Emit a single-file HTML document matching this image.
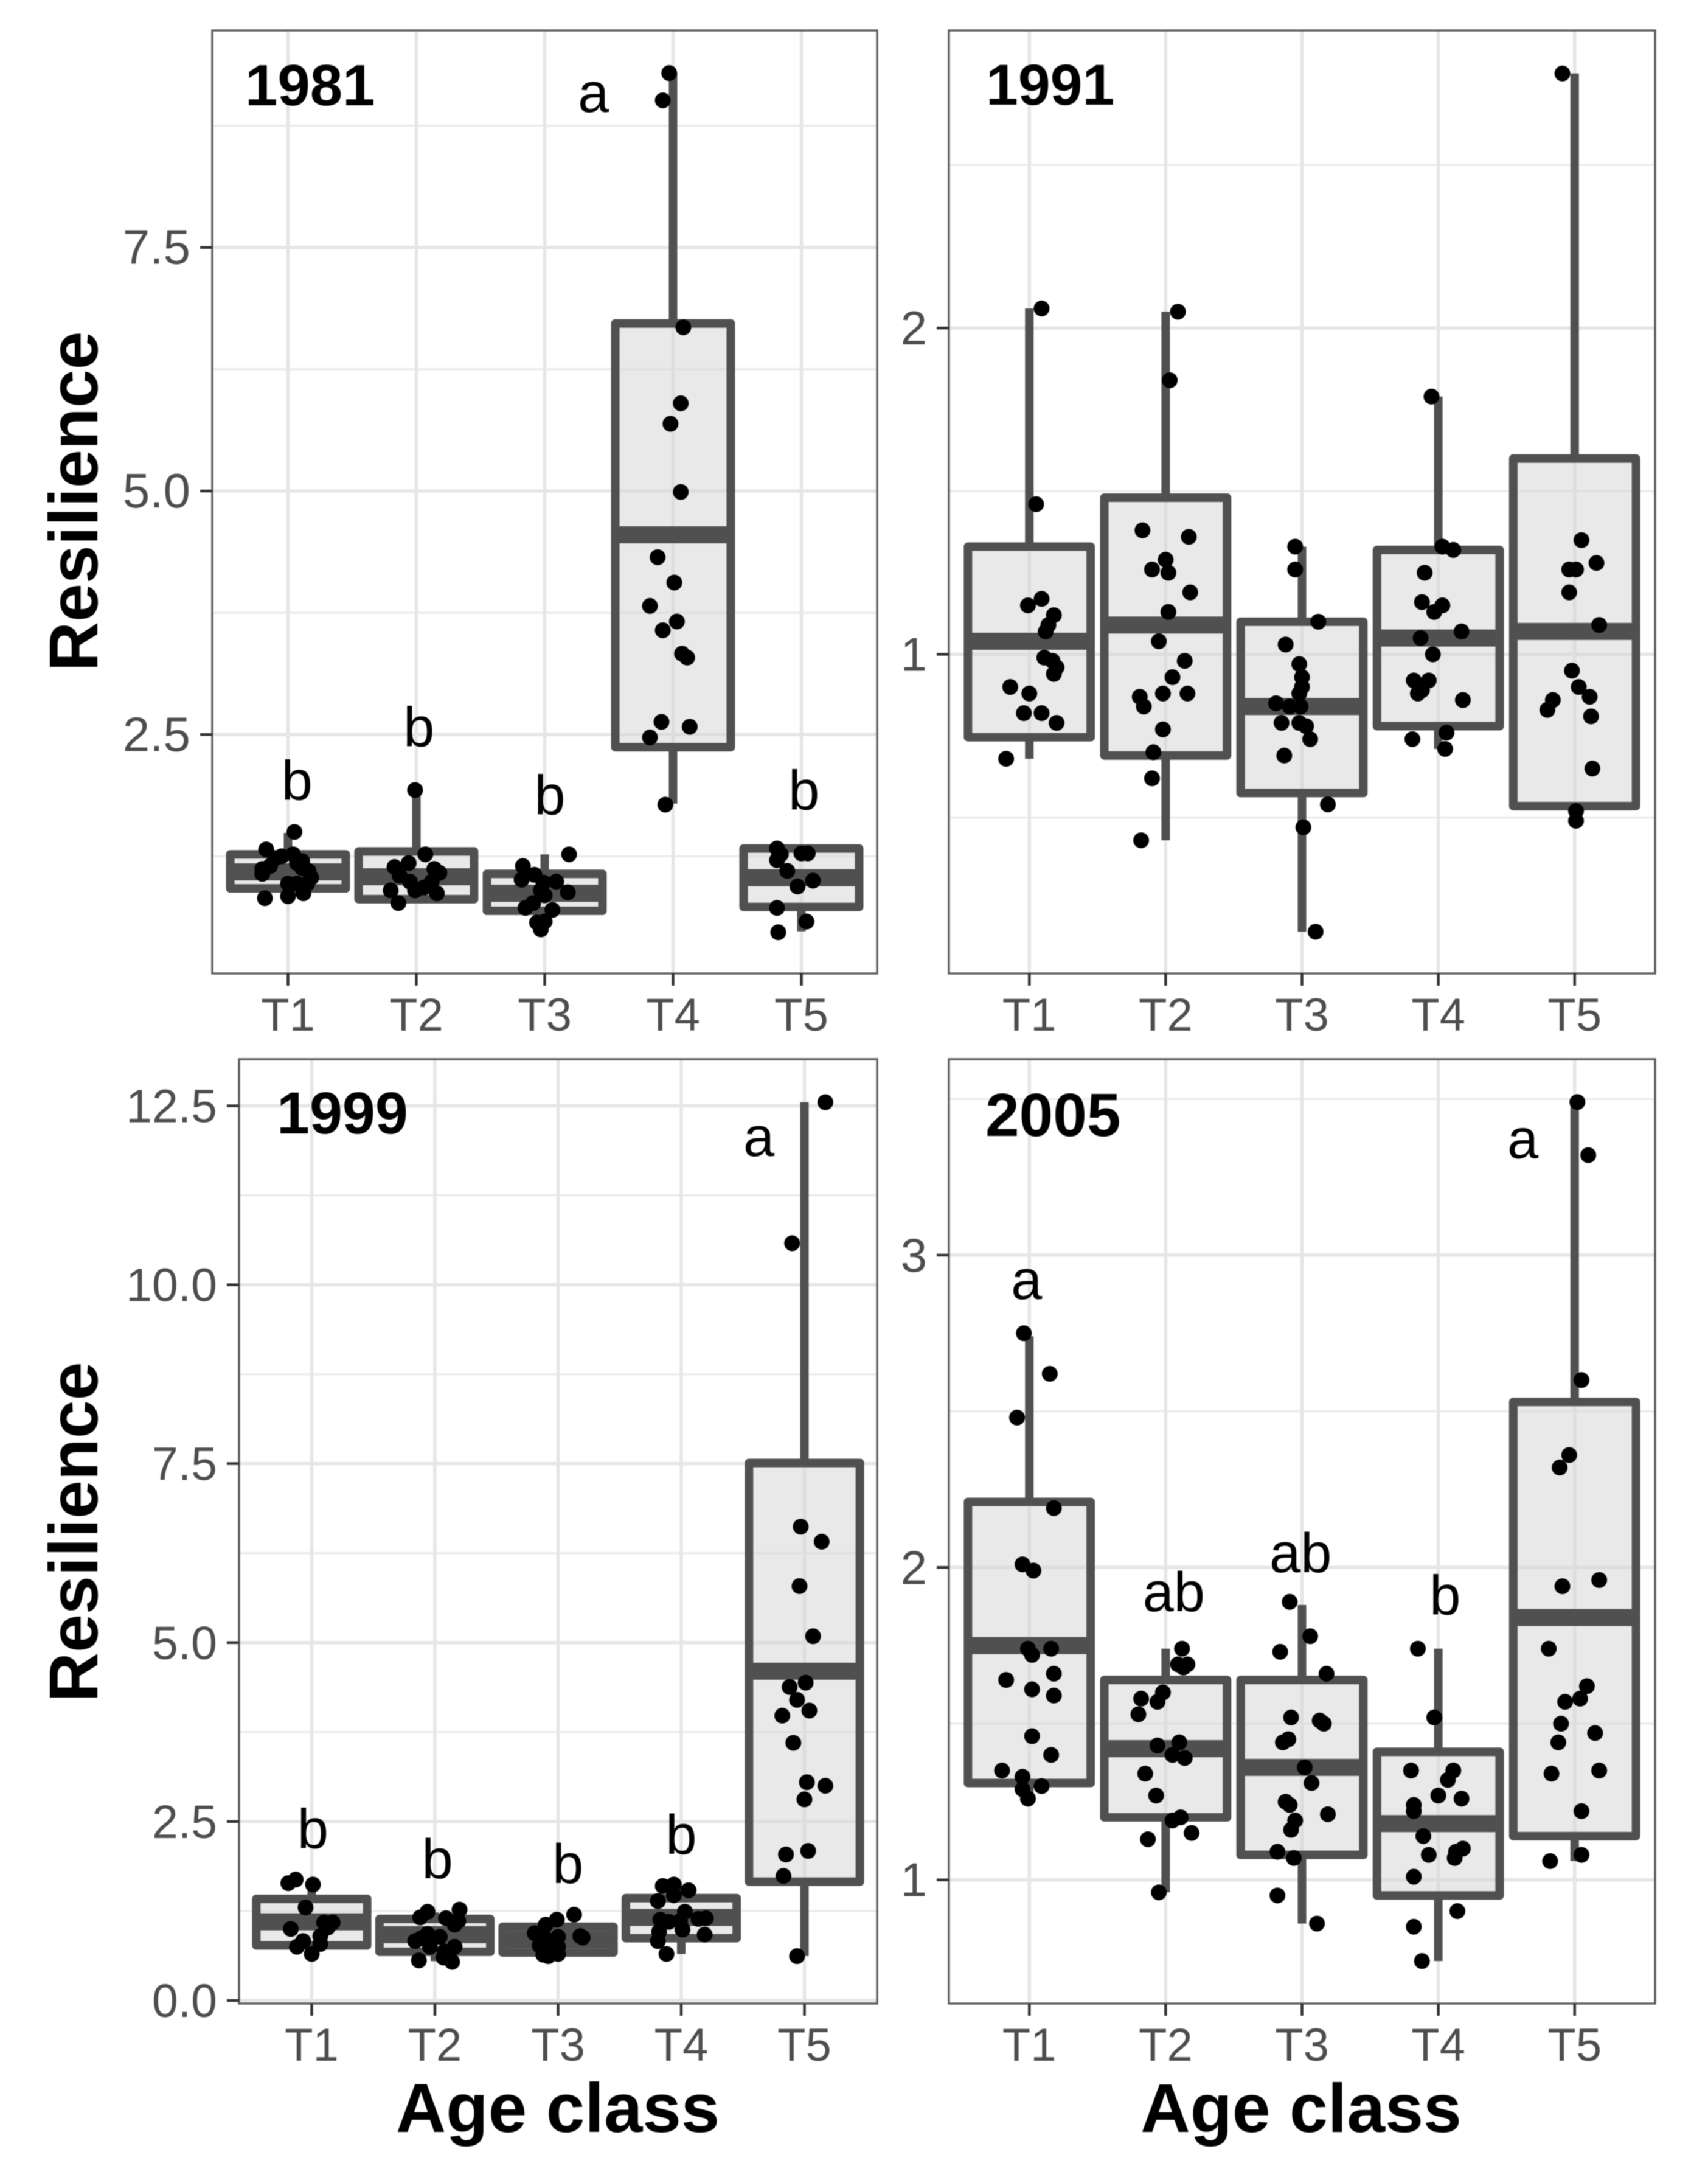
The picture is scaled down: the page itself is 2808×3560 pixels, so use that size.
<!DOCTYPE html>
<html lang="en">
<head>
<meta charset="utf-8">
<title>Resilience by age class</title>
<style>
html,body{margin:0;padding:0;background:#fff;}
svg{display:block;filter:blur(0.7px);}
text{font-family:"Liberation Sans",sans-serif;}
</style>
</head>
<body>
<svg id="figure" xmlns="http://www.w3.org/2000/svg" width="2808" height="3560" viewBox="0 0 2808 3560">
  <rect x="0" y="0" width="2808" height="3560" fill="#ffffff"/>
  <g id="panel-1981"></g>
  <g id="panel-1991"></g>
  <g id="panel-1999"></g>
  <g id="panel-2005"></g>
  <text x="403" y="173" font-size="96" font-weight="700" fill="#000">1981</text>
  <text x="1621" y="172" font-size="95" font-weight="700" fill="#000">1991</text>
  <text x="455" y="1863" font-size="97" font-weight="700" fill="#000">1999</text>
  <text x="1620" y="1867" font-size="100" font-weight="700" fill="#000">2005</text>
  <text transform="translate(160 824) rotate(-90)" text-anchor="middle" font-size="113" font-weight="700" fill="#000">Resilience</text>
  <text transform="translate(160 2518) rotate(-90)" text-anchor="middle" font-size="113" font-weight="700" fill="#000">Resilience</text>
  <text x="917" y="3504" text-anchor="middle" font-size="114" font-weight="700" fill="#000">Age class</text>
  <text x="2139" y="3504" text-anchor="middle" font-size="113" font-weight="700" fill="#000">Age class</text>
</svg>
<script>
const categories = ['T1', 'T2', 'T3', 'T4', 'T5'];

// 1981
const ticks1981 = [2.5, 5, 7.5];
const tickLabels1981 = ['2.5', '5.0', '7.5'];
const minor1981 = [1.25, 3.75, 6.25, 8.75];
const domain1981 = [0.047, 9.728];
const q1_1981 = [0.92, 0.81, 0.69, 2.37, 0.73];
const median1981 = [1.09, 1.04, 0.87, 4.55, 1.03];
const q3_1981 = [1.27, 1.30, 1.07, 6.72, 1.33];
const whiskerLow1981 = [0.92, 0.81, 0.69, 1.79, 0.48];
const whiskerHigh1981 = [1.49, 1.93, 1.27, 9.29, 1.33];
const values1981 = [
  [1.50,1.32,1.23,1.25,1.27,1.20,1.18,1.15,1.12,1.07,1.10,1.03,.97,.97,.87,.84,.82,1.13,.97],
  [1.27,1.18,1.14,1.05,1.12,1.08,.99,.99,.90,.90,.93,.87,.77,1.93],
  [1.27,1.15,1.01,1.06,.99,.98,.90,.85,.88,.77,.72,.70,.57,.58,.50],
  [9.29,9.01,6.68,5.90,5.69,4.99,4.32,4.06,3.82,3.66,3.57,3.33,3.29,2.63,2.58,2.47,1.78],
  [1.33,1.27,1.21,1.28,1.28,1.10,1.00,.94,.72,.58,.47]
];
const jitter1981 = [
  [.05,-.17,-.10,-.05,.04,.11,.07,-.14,-.20,-.20,.16,.18,0,.15,.12,0,-.18,.11,.07],
  [.07,-.06,-.17,-.13,.14,.18,-.05,.12,-.20,-.01,.06,.16,-.14,-.01],
  [.19,-.17,-.18,-.08,.09,-.01,-.03,0,.18,-.09,-.15,.06,-.06,0,-.03],
  [-.03,-.08,.08,.06,-.02,.06,-.12,.01,-.18,.03,-.08,.07,.11,-.09,.13,-.18,-.06],
  [-.19,-.16,-.19,0,.05,-.11,.09,-.03,-.19,.04,-.18]
];
const letters1981 = ['b', 'b', 'b', 'a', 'b'];
const letterCat1981 = [1.07, 2.02, 3.04, 3.38, 5.02];
const letterVal1981 = [1.83, 2.38, 1.68, 8.89, 1.73];

// 1991
const ticks1991 = [1, 2];
const tickLabels1991 = ['1', '2'];
const minor1991 = [0.5, 1.5, 2.5];
const domain1991 = [0.022, 2.912];
const q1_1991 = [0.746, 0.69, 0.575, 0.78, 0.535];
const median1991 = [1.04, 1.09, 0.84, 1.05, 1.07];
const q3_1991 = [1.33, 1.48, 1.10, 1.32, 1.60];
const whiskerLow1991 = [0.68, 0.43, 0.15, 0.71, 0.53];
const whiskerHigh1991 = [2.06, 2.05, 1.33, 1.79, 2.78];
const values1991 = [
  [2.06,1.46,1.17,1.15,1.12,1.09,1.07,.99,.98,.96,.94,.90,.88,.82,.82,.79,.68],
  [2.05,1.84,1.38,1.36,1.29,1.26,1.25,1.19,1.13,1.04,.98,.93,.88,.88,.87,.84,.77,.70,.62,.43],
  [1.33,1.26,1.10,1.03,.97,.93,.90,.88,.85,.84,.84,.79,.79,.78,.74,.69,.54,.47,.15],
  [1.79,1.33,1.32,1.25,1.16,1.15,1.13,1.07,1.05,1.00,.92,.92,.89,.88,.86,.76,.74,.71],
  [2.78,1.35,1.28,1.26,1.26,1.19,1.09,.95,.90,.87,.86,.83,.81,.65,.52,.49]
];
const jitter1991 = [
  [.09,.05,.09,-.01,.18,.14,.12,.11,.17,.20,.18,-.14,0,-.04,.09,.20,-.17],
  [.09,.03,-.17,.17,0,-.10,.02,.18,.02,-.05,.14,.05,.16,-.02,-.19,-.16,-.02,-.09,-.10,-.18],
  [-.05,-.05,.12,-.12,-.02,0,0,-.02,-.19,-.09,-.01,-.15,-.02,.03,.06,-.13,.19,.01,.10],
  [-.05,.03,.11,-.10,-.12,.03,-.03,.17,-.13,-.04,-.18,-.07,-.12,-.15,.18,.06,-.19,.05],
  [-.09,.05,.16,-.04,.01,-.04,.18,-.02,.03,.11,-.16,-.20,.12,.13,.01,.01]
];
const letters1991 = [];
const letterCat1991 = [];
const letterVal1991 = [];

// 1999
const ticks1999 = [0, 2.5, 5, 7.5, 10, 12.5];
const tickLabels1999 = ['0.0', '2.5', '5.0', '7.5', '10.0', '12.5'];
const minor1999 = [1.25, 3.75, 6.25, 8.75, 11.25];
const domain1999 = [-0.0425, 13.15];
const q1_1999 = [0.77, 0.68, 0.67, 0.87, 1.66];
const median1999 = [1.10, 0.92, 0.85, 1.16, 4.60];
const q3_1999 = [1.42, 1.14, 1.03, 1.43, 7.51];
const whiskerLow1999 = [0.65, 0.55, 0.62, 0.65, 0.62];
const whiskerHigh1999 = [1.62, 1.23, 1.13, 1.60, 12.55];
const values1999 = [
  [1.69,1.64,1.62,1.30,1.00,1.09,1.09,1.02,.90,.79,.83,.75,.65],
  [1.27,1.24,1.16,1.15,1.11,1.06,.93,.89,.83,.87,.75,.75,.69,.60,.54,.56],
  [1.20,1.13,1.06,.94,.90,.88,.89,.90,.77,.75,.64,.65,.62,.75],
  [1.60,1.62,1.54,1.47,1.39,1.24,1.13,1.10,1.11,1.14,1.15,.99,.96,.92,.83,.65],
  [12.55,10.58,6.62,6.41,5.79,5.09,4.44,4.38,4.20,4.05,3.98,3.60,3.05,3.00,2.81,2.09,2.04,1.74,.62]
];
const jitter1999 = [
  [-.13,-.19,.01,-.05,-.17,.10,.17,.13,.07,.07,-.07,-.12,0],
  [.20,-.06,-.12,.09,.19,.16,-.06,.04,-.16,-.11,-.04,.16,.08,.07,.14,-.13],
  [.13,-.01,-.10,-.19,.18,.20,0,-.12,-.15,0,-.12,0,-.08,-.07],
  [-.15,-.06,.06,-.06,-.19,.03,-.17,-.10,-.01,.14,.20,.01,-.18,.19,-.19,-.12],
  [.17,-.10,-.03,.14,-.04,.07,.01,-.12,-.06,.04,-.18,-.09,.02,.17,0,.03,-.15,-.17,-.06]
];
const letters1999 = ['b', 'b', 'b', 'b', 'a'];
const letterCat1999 = [1.01, 2.02, 3.08, 4.0, 4.63];
const letterVal1999 = [2.13, 1.71, 1.64, 2.05, 11.80];

// 2005
const ticks2005 = [1, 2, 3];
const tickLabels2005 = ['1', '2', '3'];
const minor2005 = [1.5, 2.5, 3.5];
const domain2005 = [0.604, 3.627];
const q1_2005 = [1.31, 1.20, 1.08, 0.95, 1.14];
const median2005 = [1.75, 1.42, 1.36, 1.18, 1.84];
const q3_2005 = [2.21, 1.64, 1.64, 1.41, 2.53];
const whiskerLow2005 = [1.27, 0.96, 0.86, 0.74, 1.06];
const whiskerHigh2005 = [2.74, 1.74, 1.88, 1.74, 3.49];
const values2005 = [
  [2.75,2.62,2.48,2.19,2.01,1.99,1.74,1.74,1.72,1.66,1.64,1.61,1.59,1.46,1.40,1.35,1.33,1.30,1.29,1.26],
  [1.74,1.69,1.69,1.68,1.60,1.58,1.57,1.53,1.43,1.44,1.40,1.39,1.34,1.27,1.20,1.19,1.15,1.13,.96],
  [1.89,1.78,1.73,1.66,1.52,1.51,1.50,1.45,1.44,1.36,1.31,1.25,1.24,1.21,1.19,1.16,1.09,1.07,.95,.86],
  [1.74,1.52,1.35,1.35,1.32,1.27,1.26,1.24,1.22,1.14,1.10,1.09,1.08,1.07,1.01,.90,.85,.74],
  [3.49,3.32,2.60,2.36,2.32,1.96,1.94,1.74,1.62,1.58,1.57,1.50,1.47,1.44,1.34,1.35,1.22,1.08,1.06]
];
const jitter2005 = [
  [-.04,.15,-.09,.18,-.05,.03,-.01,.16,.02,.18,-.17,.02,.18,.02,.16,-.20,-.05,.09,-.05,-.01],
  [.12,.09,.16,.13,-.02,-.18,-.06,-.20,-.06,.10,.05,.14,-.15,-.07,.11,.05,.19,-.13,-.05],
  [-.09,.06,-.16,.18,-.08,.13,.16,-.10,-.14,.02,.07,-.12,-.09,.19,-.05,-.08,-.18,-.06,-.18,.11],
  [-.15,-.03,-.20,.11,.07,0,.17,-.18,-.18,-.11,.18,.13,-.07,.12,-.18,.14,-.18,-.12],
  [.02,.10,.05,-.04,-.11,.18,-.09,-.19,.09,.04,-.07,-.10,.15,-.12,-.17,.18,.05,.05,-.18]
];
const letters2005 = ['a', 'ab', 'ab', 'b', 'a'];
const letterCat2005 = [0.98, 2.06, 2.99, 4.05, 4.62];
const letterVal2005 = [2.86, 1.86, 1.985, 1.85, 3.31];

const SVG_NS = 'http://www.w3.org/2000/svg';
const X_DOMAIN = [0.41, 5.59];
const BOX_WIDTH = 0.9;
const BOX_COLOR = '#505050';

function shape(parent, tag, attrs) {
  const el = document.createElementNS(SVG_NS, tag);
  for (const key in attrs) el.setAttribute(key, attrs[key]);
  parent.appendChild(el);
  return el;
}

function drawPanel(p) {
  const root = document.getElementById(p.id);
  const xScale = c => p.left + (c - X_DOMAIN[0]) / (X_DOMAIN[1] - X_DOMAIN[0]) * (p.right - p.left);
  const yScale = v => p.bottom - (v - p.domain[0]) / (p.domain[1] - p.domain[0]) * (p.bottom - p.top);

  p.minor.forEach(v => {
    const el = shape(root, 'line', {x1: p.left, x2: p.right, y1: yScale(v), y2: yScale(v), stroke: '#ececec', 'stroke-width': 3.5});
    
    
  });
  p.ticks.forEach(v => {
    const el = shape(root, 'line', {x1: p.left, x2: p.right, y1: yScale(v), y2: yScale(v), stroke: '#e6e6e6', 'stroke-width': 5.5});
    
    
  });
  categories.forEach((cat, i) => {
    const el = shape(root, 'line', {x1: xScale(i + 1), x2: xScale(i + 1), y1: p.top, y2: p.bottom, stroke: '#e6e6e6', 'stroke-width': 5.5});
    
    
  });

  categories.forEach((cat, i) => {
    const cx = xScale(i + 1);
    const halfW = xScale(i + 1 + BOX_WIDTH / 2) - cx;

    const whiskerUp = shape(root, 'line', {x1: cx, x2: cx, y1: yScale(p.whiskerHigh[i]), y2: yScale(p.q3[i]), stroke: BOX_COLOR, 'stroke-width': 14});
    
    

    const whiskerDown = shape(root, 'line', {x1: cx, x2: cx, y1: yScale(p.q1[i]), y2: yScale(p.whiskerLow[i]), stroke: BOX_COLOR, 'stroke-width': 14});
    
    

    const box = shape(root, 'rect', {
      x: cx - halfW, width: 2 * halfW,
      y: yScale(p.q3[i]), height: yScale(p.q1[i]) - yScale(p.q3[i]),
      fill: 'rgba(212,212,212,0.5)', stroke: BOX_COLOR, 'stroke-width': 14, 'stroke-linejoin': 'round'
    });
    
    

    const med = shape(root, 'line', {x1: cx - halfW, x2: cx + halfW, y1: yScale(p.median[i]), y2: yScale(p.median[i]), stroke: BOX_COLOR, 'stroke-width': 28});
    
    
  });

  categories.forEach((cat, i) => {
    p.values[i].forEach((v, j) => {
      const dot = shape(root, 'circle', {cx: xScale(i + 1 + p.jitter[i][j]), cy: yScale(v), r: 13, fill: '#000000'});
      
      
    });
  });

  const border = shape(root, 'rect', {x: p.left, y: p.top, width: p.right - p.left, height: p.bottom - p.top, fill: 'none', stroke: '#5f5f5f', 'stroke-width': 3.5});
  
  

  p.ticks.forEach((v, i) => {
    const tick = shape(root, 'line', {x1: p.left - 20, x2: p.left, y1: yScale(v), y2: yScale(v), stroke: '#333333', 'stroke-width': 4.5});
    
    
    const label = shape(root, 'text', {x: p.left - 36, y: yScale(v) + 27, 'text-anchor': 'end', 'font-size': p.yTickSize, fill: '#4d4d4d'});
    label.textContent = p.tickLabels[i];
    
    
  });

  categories.forEach((cat, i) => {
    const cx = xScale(i + 1);
    const tick = shape(root, 'line', {x1: cx, x2: cx, y1: p.bottom, y2: p.bottom + 20, stroke: '#333333', 'stroke-width': 4.5});
    
    
    const label = shape(root, 'text', {x: cx, y: p.bottom + 94, 'text-anchor': 'middle', 'font-size': 76, fill: '#4d4d4d'});
    label.textContent = cat;
    
    
  });

  p.letters.forEach((text, i) => {
    const label = shape(root, 'text', {x: xScale(p.letterCat[i]), y: yScale(p.letterVal[i]), 'text-anchor': 'middle', 'font-size': 92, fill: '#000000'});
    label.textContent = text;
    
    
  });
}

drawPanel({id: 'panel-1981', yTickSize: 80, left: 349, right: 1442, top: 50, bottom: 1600, domain: domain1981, ticks: ticks1981, tickLabels: tickLabels1981, minor: minor1981, q1: q1_1981, median: median1981, q3: q3_1981, whiskerLow: whiskerLow1981, whiskerHigh: whiskerHigh1981, values: values1981, jitter: jitter1981, letters: letters1981, letterCat: letterCat1981, letterVal: letterVal1981});
drawPanel({id: 'panel-1991', yTickSize: 78, left: 1560, right: 2721, top: 50, bottom: 1600, domain: domain1991, ticks: ticks1991, tickLabels: tickLabels1991, minor: minor1991, q1: q1_1991, median: median1991, q3: q3_1991, whiskerLow: whiskerLow1991, whiskerHigh: whiskerHigh1991, values: values1991, jitter: jitter1991, letters: letters1991, letterCat: letterCat1991, letterVal: letterVal1991});
drawPanel({id: 'panel-1999', yTickSize: 77, left: 393, right: 1442, top: 1741, bottom: 3293, domain: domain1999, ticks: ticks1999, tickLabels: tickLabels1999, minor: minor1999, q1: q1_1999, median: median1999, q3: q3_1999, whiskerLow: whiskerLow1999, whiskerHigh: whiskerHigh1999, values: values1999, jitter: jitter1999, letters: letters1999, letterCat: letterCat1999, letterVal: letterVal1999});
drawPanel({id: 'panel-2005', yTickSize: 78, left: 1560, right: 2721, top: 1741, bottom: 3293, domain: domain2005, ticks: ticks2005, tickLabels: tickLabels2005, minor: minor2005, q1: q1_2005, median: median2005, q3: q3_2005, whiskerLow: whiskerLow2005, whiskerHigh: whiskerHigh2005, values: values2005, jitter: jitter2005, letters: letters2005, letterCat: letterCat2005, letterVal: letterVal2005});
</script>
</body>
</html>
